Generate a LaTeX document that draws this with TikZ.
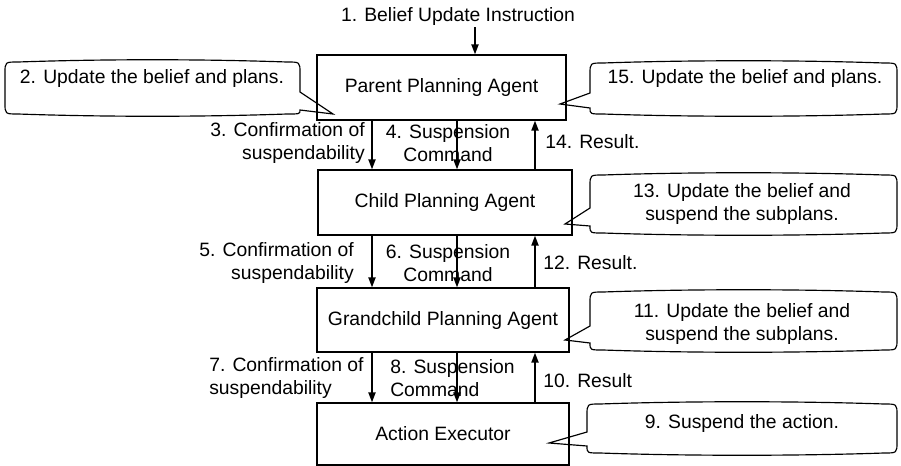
\documentclass[tikz,border=0pt]{standalone}
\usepackage{fontspec}
\setmainfont{Liberation Sans}
\usepackage{tikz}
\usetikzlibrary{arrows.meta}

% speech bubble, tail on the left side: x1, y1, x2, y2, tail from, tail to, tip
\newcommand{\balloon}[7]{%
	\draw (#1,#5) -- (#7) -- (#1,#6)
		.. controls (#1,#4) .. (#1+13,#4)
		.. controls (#1+100,#4+3) and (#3-100,#4+3) .. (#3-13,#4)
		.. controls (#3,#4) .. (#3,#4-11)
		-- (#3,#2+11)
		.. controls (#3,#2) .. (#3-13,#2)
		.. controls (#3-100,#2-3) and (#1+100,#2-3) .. (#1+13,#2)
		.. controls (#1,#2) .. (#1,#2+11)
		-- cycle;
}

\begin{document}
\begin{tikzpicture}[x = 0.6pt, y = -0.6pt, line width = 0.7pt,
		font = \fontsize{11.6}{13.4}\selectfont,
		agent/.style = {draw, minimum height = 39pt, inner sep = 0pt},
		note/.style = {inner sep = 1pt},
		flow/.style = {-{Triangle[length = 6pt, width = 4.2pt]}, line width = 1.1pt}]
	\useasboundingbox (0,0) rectangle (901,466);

	\node [agent, minimum width = 149.4pt] (parent) at (441.5,87.5) {Parent Planning Agent};
	\node [agent, minimum width = 152.4pt] (child) at (445,202.5) {Child Planning Agent};
	\node [agent, minimum width = 151.2pt, minimum height = 38.4pt] (grand) at (443,320) {Grandchild Planning Agent};
	\node [agent, minimum width = 151.2pt, minimum height = 37.2pt] (exec) at (443,434) {Action Executor};

	\node [note] (instr) at (458,16) {1. Belief Update Instruction};

	% messages between the layers
	\node [note, align = right, anchor = east] (conf3) at (367,143) {3. Confirmation of\\suspendability};
	\node [note, align = center] (susp4) at (448,143) {4. Suspension\\Command};
	\node [note, anchor = west] (res14) at (543,142) {14. Result.};

	\node [note, align = right, anchor = east] (conf5) at (356,263) {5. Confirmation of\\suspendability};
	\node [note, align = center] (susp6) at (448,263) {6. Suspension\\Command};
	\node [note, anchor = west] (res12) at (541,263) {12. Result.};

	\node [note, align = left, anchor = west] (conf7) at (207,378) {7. Confirmation of\\suspendability};
	\node [note, align = left, anchor = west] (susp8) at (388,378) {8. Suspension\\Command};
	\node [note, anchor = west] (res10) at (541,381) {10. Result};

	\coordinate (top) at (475,0);
	\coordinate (down1) at (372,0);
	\coordinate (down2) at (457,0);
	\coordinate (up) at (535,0);

	\begin{scope}[flow]
		\draw (instr.south -| top) -- (parent.north -| top);
		\foreach \upper/\lower in {parent/child, child/grand, grand/exec}
		{
			\draw (\upper.south -| down1) -- (\lower.north -| down1);
			\draw (\upper.south -| down2) -- (\lower.north -| down2);
			\draw (\lower.north -| up) -- (\upper.south -| up);
		}
	\end{scope}

	% bubbles
	\draw (300,92) -- (333,114) -- (300,110)
		.. controls (300,114) .. (287,114)
		.. controls (200,117) and (105,117) .. (18,114)
		.. controls (5,114) .. (5,103)
		-- (5,73)
		.. controls (5,62) .. (18,62)
		.. controls (105,59) and (200,59) .. (287,62)
		.. controls (300,62) .. (300,73)
		-- cycle;
	\node (upd2) at (152,78) {2. Update the belief and plans.};

	\balloon{590}{63}{897}{114}{93}{108}{560,104}
	\node (upd15) at (745,78) {15. Update the belief and plans.};

	\balloon{590}{175}{897}{233}{208}{226}{565,224}
	\node [align = center] (upd13) at (742,204) {13. Update the belief and\\suspend the subplans.};

	\balloon{590}{292}{897}{350}{326}{343}{565,340}
	\node [align = center] (upd11) at (742,324) {11. Update the belief and\\suspend the subplans.};

	\balloon{587}{404}{897}{453}{432}{446}{549,443}
	\node (upd9) at (742,423) {9. Suspend the action.};
\end{tikzpicture}
\end{document}
